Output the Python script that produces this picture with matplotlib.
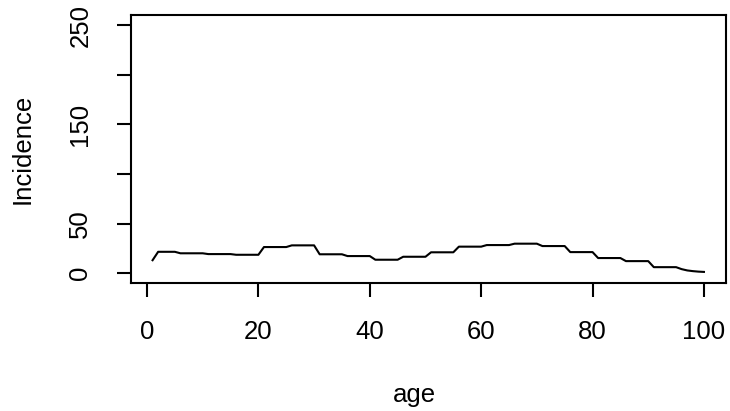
import matplotlib
matplotlib.use("Agg")
import matplotlib.pyplot as plt

plt.rcParams['font.family'] = ['Liberation Sans', 'DejaVu Sans']

# incidence by single year of age
age = list(range(1, 101))
incidence = [
    13.0, 21.5, 21.5, 21.5, 21.5,
    20.0, 20.0, 20.0, 20.0, 20.0,
    19.2, 19.2, 19.2, 19.2, 19.2,
    18.5, 18.5, 18.5, 18.5, 18.5,
    26.3, 26.3, 26.3, 26.3, 26.3,
    28.0, 28.0, 28.0, 28.0, 28.0,
    19.0, 19.0, 19.0, 19.0, 19.0,
    17.2, 17.2, 17.2, 17.2, 17.2,
    13.5, 13.5, 13.5, 13.5, 13.5,
    16.5, 16.5, 16.5, 16.5, 16.5,
    21.0, 21.0, 21.0, 21.0, 21.0,
    26.7, 26.7, 26.7, 26.7, 26.7,
    28.3, 28.3, 28.3, 28.3, 28.3,
    29.7, 29.7, 29.7, 29.7, 29.7,
    27.3, 27.3, 27.3, 27.3, 27.3,
    21.2, 21.2, 21.2, 21.2, 21.2,
    15.2, 15.2, 15.2, 15.2, 15.2,
    12.1, 12.1, 12.1, 12.1, 12.1,
    6.0, 6.0, 6.0, 6.0, 6.0,
    4.0, 2.7, 2.0, 1.5, 1.2,
]
xticks = [0, 20, 40, 60, 80, 100]
yticks = [0, 50, 100, 150, 200, 250]
ytick_labels = ["0", "50", "", "150", "", "250"]

fig = plt.figure(figsize=(7.3, 4.11), dpi=100)
ax = fig.add_axes([0.1788, 0.3114, 0.8157, 0.6509])
ax.plot(age, incidence, color='black', lw=1.5)

ax.set_xlim(-2.96, 103.96)
ax.set_ylim(-10, 260)
ax.set_xticks(xticks)
ax.set_yticks(yticks)
ax.set_yticklabels(ytick_labels, rotation=90, va='center')

for s in ax.spines.values():
    s.set_linewidth(1.5)
ax.tick_params(axis='both', length=10, width=1.5, labelsize=18.5)
ax.tick_params(axis='x', pad=16.5)
ax.tick_params(axis='y', pad=17.5)

ax.set_xlabel("age", fontsize=18.5, va='center')
ax.xaxis.set_label_coords(0.477, -0.419)
ax.set_ylabel("Incidence", fontsize=18.5, va='center')
ax.yaxis.set_label_coords(-0.182, 0.5)

fig.savefig("out.png", dpi=100)
